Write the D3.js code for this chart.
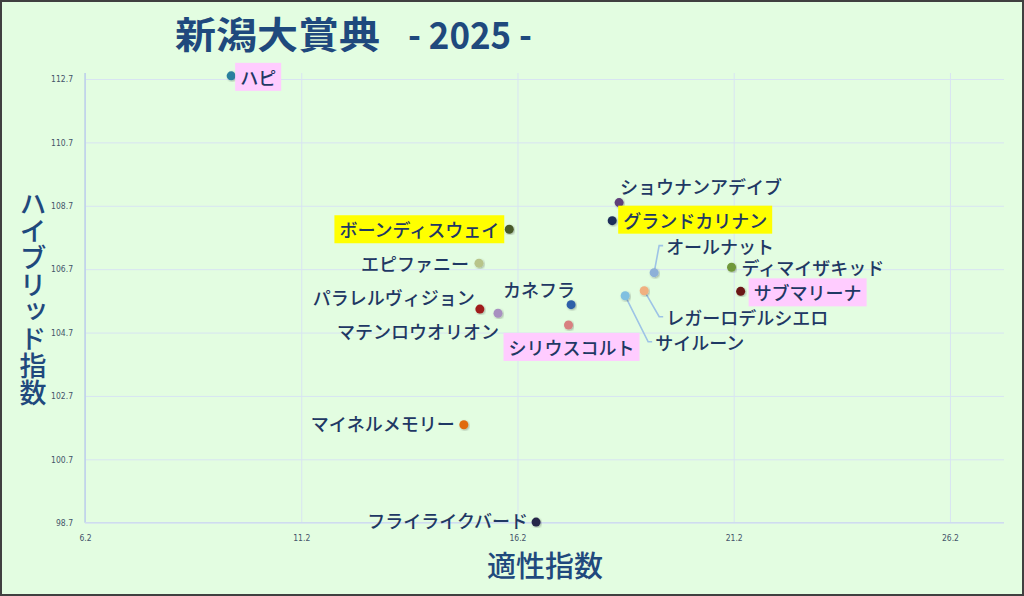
<!DOCTYPE html>
<html>
<head>
<meta charset="utf-8">
<script src="https://cdn.jsdelivr.net/npm/d3@7"></script>
<style>
  html, body { margin: 0; padding: 0; background: #e3fde1; }
  svg { display: block; }
</style>
</head>
<body>
<div id="root"></div>
<script>
// chart values
var horses = ["ハピ", "ショウナンアデイブ", "グランドカリナン", "ボーンディスウェイ", "エピファニー",
    "パラレルヴィジョン", "マテンロウオリオン", "カネフラ", "シリウスコルト", "オールナット",
    "ディマイザキッド", "サブマリーナ", "レガーロデルシエロ", "サイルーン", "マイネルメモリー", "フライライクバード"];
var tekisei = [9.58, 18.55, 18.39, 16.01, 15.31, 15.33, 15.75, 17.44, 17.38, 19.36, 21.15, 21.36, 19.13, 18.69, 14.96, 16.63];
var hybrid = [112.8, 108.8, 108.23, 107.96, 106.89, 105.44, 105.31, 105.58, 104.94, 106.59, 106.76, 106.0, 106.02, 105.86, 101.79, 98.72];
var xTicks = [6.2, 11.2, 16.2, 21.2, 26.2];
var yTicks = [98.7, 100.7, 102.7, 104.7, 106.7, 108.7, 110.7, 112.7];

// styles and label placement (layout only)
var dotColors = ["#2a7f9e", "#5e3f7a", "#1f2d5a", "#4a5a2a", "#b8c48a", "#a01c1c", "#a890c0", "#2f5fa8",
    "#d88080", "#8eb0d8", "#70983a", "#6b1414", "#f0b080", "#80c0e0", "#e06a10", "#262848"];
var highlight = { "ハピ": "#ffccff", "サブマリーナ": "#ffccff", "シリウスコルト": "#ffccff",
    "グランドカリナン": "#ffff00", "ボーンディスウェイ": "#ffff00" };
// [dx, dy, anchor, leader]
var labelPos = [
    [9, 1, "start", false], [1, -17, "start", false], [11, -1, "start", false], [-10, 0, "end", false],
    [-10, 0, "end", false], [-5, -12, "end", false], [1, 18, "end", false], [4, -16, "end", false],
    [-60, 22, "start", false], [12, -27, "start", true], [10, 0, "start", false], [13, 1, "start", false],
    [22, 26, "start", true], [30, 46, "start", true], [-9, -2, "end", false], [-8, -2, "end", false]
];

var W = 1024, H = 596;
var svg = d3.select("#root").append("svg")
    .attr("width", W)
    .attr("height", H)
    .style("font-family", "'Noto Sans CJK JP', 'Noto Sans', sans-serif");

svg.append("rect")
    .attr("x", 1).attr("y", 1)
    .attr("width", W - 2).attr("height", H - 2)
    .attr("fill", "#e3fde1")
    .attr("stroke", "#404040")
    .attr("stroke-width", 2);

var defs = svg.append("defs");
defs.append("filter").attr("id", "shadow")
    .append("feDropShadow")
    .attr("dx", 1).attr("dy", 1)
    .attr("stdDeviation", 0.8)
    .attr("flood-color", "#000")
    .attr("flood-opacity", 0.3);

var x = d3.scaleLinear().domain([6.2, 27.45]).range([85, 1004]);
var y = d3.scaleLinear().domain([98.7, 112.89]).range([522.7, 73]);

// grid
svg.append("g")
    .attr("transform", "translate(0,522.7)")
    .call(d3.axisBottom(x).tickValues(xTicks).tickSize(-(522.7 - 73)).tickFormat(""))
    .call(g => g.select(".domain").remove())
    .call(g => g.selectAll("line").attr("stroke", "#d8e4f2").attr("stroke-width", 1));

svg.append("g")
    .attr("transform", "translate(85,0)")
    .call(d3.axisLeft(y).tickValues(yTicks).tickSize(-(1004 - 85)).tickFormat(""))
    .call(g => g.select(".domain").remove())
    .call(g => g.selectAll("line").attr("stroke", "#d8e4f2").attr("stroke-width", 1));

// axis lines
svg.append("line")
    .attr("x1", 85).attr("x2", 85).attr("y1", 73).attr("y2", 522.7)
    .attr("stroke", "#b4c8e8").attr("stroke-width", 1.2);
svg.append("line")
    .attr("x1", 85).attr("x2", 1004).attr("y1", 522.7).attr("y2", 522.7)
    .attr("stroke", "#cfdcee").attr("stroke-width", 1.2);

// tick labels
svg.append("g")
    .attr("transform", "translate(0,532)")
    .call(d3.axisBottom(x).tickValues(xTicks).tickSize(0).tickFormat(d3.format(".1f")))
    .call(g => g.select(".domain").remove())
    .call(g => g.selectAll("text")
        .attr("fill", "#44546a")
        .style("font-size", "8.5px")
        .style("font-family", "'Liberation Sans Narrow', 'DejaVu Sans Condensed', sans-serif"));

svg.append("g")
    .attr("transform", "translate(76,0)")
    .call(d3.axisLeft(y).tickValues(yTicks).tickSize(0).tickFormat(d3.format(".1f")))
    .call(g => g.select(".domain").remove())
    .call(g => g.selectAll("text")
        .attr("fill", "#44546a")
        .style("font-size", "8.5px")
        .style("font-family", "'Liberation Sans Narrow', 'DejaVu Sans Condensed', sans-serif"));

// title
svg.append("text")
    .attr("x", 175).attr("y", 49)
    .attr("fill", "#1f497d")
    .style("font-size", "37px")
    .style("font-weight", "bold")
    .attr("textLength", 205)
    .attr("lengthAdjust", "spacingAndGlyphs")
    .text("新潟大賞典");
svg.append("text")
    .attr("x", 408).attr("y", 49)
    .attr("fill", "#1f497d")
    .style("font-size", "37px")
    .style("font-weight", "bold")
    .attr("textLength", 124)
    .attr("lengthAdjust", "spacingAndGlyphs")
    .text("- 2025 -");

// axis titles
svg.append("text")
    .attr("x", 545).attr("y", 564)
    .attr("text-anchor", "middle")
    .attr("dominant-baseline", "central")
    .attr("fill", "#1f497d")
    .style("font-size", "29px")
    .style("font-weight", "500")
    .text("適性指数");

svg.append("text")
    .attr("x", 33).attr("y", 298)
    .attr("text-anchor", "middle")
    .attr("fill", "#1f497d")
    .style("writing-mode", "vertical-rl")
    .style("font-size", "27px")
    .style("font-weight", "500")
    .text("ハイブリッド指数");

var pts = horses.map(function (h, i) {
    return { name: h, px: x(tekisei[i]), py: y(hybrid[i]), color: dotColors[i], pos: labelPos[i] };
});

// leader lines
svg.append("g").selectAll("path")
    .data(pts.filter(d => d.pos[3]))
    .join("path")
    .attr("fill", "none")
    .attr("stroke", "#9dc3e6")
    .attr("stroke-width", 1.6)
    .attr("d", d => {
        var tx = d.px + d.pos[0], ty = d.py + d.pos[1];
        return "M" + d.px + "," + d.py + "L" + (tx - 7) + "," + ty + "L" + (tx - 3) + "," + ty;
    });

// points
svg.append("g").selectAll("circle")
    .data(pts)
    .join("circle")
    .attr("cx", d => d.px)
    .attr("cy", d => d.py)
    .attr("r", 4.5)
    .attr("fill", d => d.color)
    .attr("filter", "url(#shadow)");

// labels
var lab = svg.append("g").selectAll("g")
    .data(pts)
    .join("g");

lab.append("text")
    .attr("x", d => d.px + d.pos[0])
    .attr("y", d => d.py + d.pos[1])
    .attr("text-anchor", d => d.pos[2])
    .attr("dominant-baseline", "central")
    .attr("fill", "#1f3864")
    .style("font-size", "18px")
    .style("font-weight", "500")
    .text(d => d.name);

lab.each(function (d) {
    var bg = highlight[d.name];
    if (!bg) return;
    var g = d3.select(this);
    var bb = g.select("text").node().getBBox();
    g.insert("rect", "text")
        .attr("x", bb.x - 5)
        .attr("y", bb.y - 1)
        .attr("width", bb.width + 10)
        .attr("height", bb.height + 2)
        .attr("fill", bg);
});
</script>
</body>
</html>
